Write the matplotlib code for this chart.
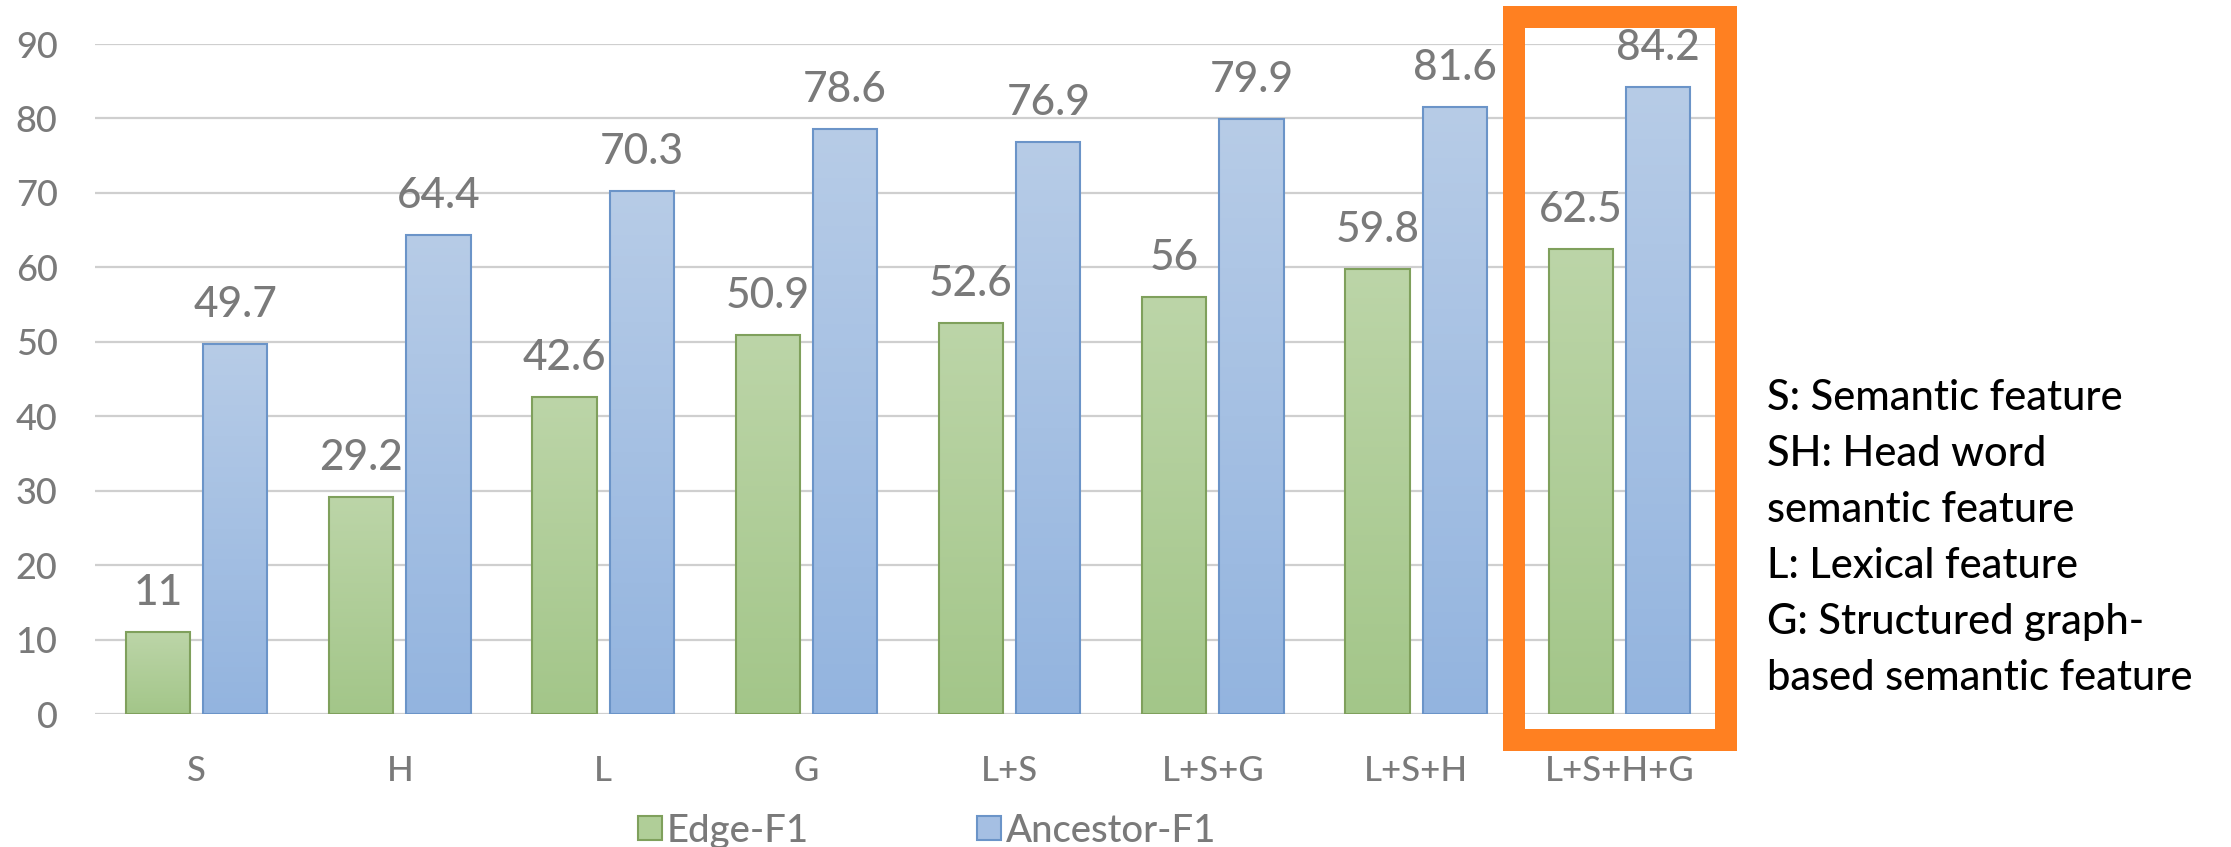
import matplotlib
matplotlib.use("Agg")
import matplotlib.pyplot as plt
import numpy as np
from matplotlib.colors import LinearSegmentedColormap
from matplotlib.patches import Rectangle, Patch
from matplotlib.transforms import IdentityTransform

categories = ["S", "H", "L", "G", "L+S", "L+S+G", "L+S+H", "L+S+H+G"]
edge_f1 = [11, 29.2, 42.6, 50.9, 52.6, 56, 59.8, 62.5]
ancestor_f1 = [49.7, 64.4, 70.3, 78.6, 76.9, 79.9, 81.6, 84.2]
series_names = ["Edge-F1", "Ancestor-F1"]
y_ticks = [0, 10, 20, 30, 40, 50, 60, 70, 80, 90]
glossary = [
    "S: Semantic feature",
    "SH: Head word",
    "semantic feature",
    "L: Lexical feature",
    "G: Structured graph-",
    "based semantic feature",
]

W, H = 2231, 847
DPI = 100
plt.rcParams["font.family"] = ["Lato", "DejaVu Sans"]
plt.rcParams["font.weight"] = "medium"

fig = plt.figure(figsize=(W / DPI, H / DPI), dpi=DPI)
fig.patch.set_facecolor("white")

# axes placed in pixel space
ax_left, ax_right = 95, 1721
ax_top, ax_bottom = 44, 714.3
ax = fig.add_axes([ax_left / W, (H - ax_bottom) / H,
                   (ax_right - ax_left) / W, (ax_bottom - ax_top) / H])

gray_text = "#7A7A7A"
grid_col = "#CFCFCF"

x = np.arange(len(categories))
bw = 0.315
off = 0.19

green_face = ["#BCD5A8", "#A3C689"]
blue_face = ["#B7CCE7", "#93B4DF"]
green_edge = "#7FA05C"
blue_edge = "#6B94C8"


def gradient_bars(xpos, vals, faces, edge, label):
    bars = ax.bar(xpos, vals, width=bw, facecolor="none", edgecolor=edge,
                  linewidth=1.5, zorder=4, label=label)
    cmap = LinearSegmentedColormap.from_list("g", [faces[1], faces[0]])
    grad = np.linspace(0, 1, 256).reshape(-1, 1)
    for b in bars:
        x0, h = b.get_x(), b.get_height()
        ax.imshow(grad, cmap=cmap, aspect="auto", origin="lower",
                  extent=(x0, x0 + b.get_width(), 0, h), zorder=3,
                  interpolation="bilinear")
    for xi, v in zip(xpos, vals):
        ax.annotate(f"{v:g}", (xi, v), xytext=(0, 28), textcoords="offset points",
                    ha="center", va="center", fontsize=30.5, color=gray_text,
                    annotation_clip=False)
    return bars


gradient_bars(x - off, edge_f1, green_face, green_edge, series_names[0])
gradient_bars(x + off, ancestor_f1, blue_face, blue_edge, series_names[1])

ax.set_xlim(-0.5, len(categories) - 0.5)
ax.set_ylim(0, 90)
ax.set_yticks(y_ticks)
ax.set_xticks(x)
ax.set_xticklabels(categories)
ax.yaxis.grid(True, color=grid_col, linewidth=1.6, zorder=0)
ax.set_axisbelow(True)
for s in ax.spines.values():
    s.set_visible(False)
ax.tick_params(axis="both", length=0, labelcolor=gray_text)
ax.tick_params(axis="y", pad=27, labelsize=26)
ax.tick_params(axis="x", pad=29, labelsize=25)

# legend below the axis
handles = [Patch(facecolor="#B0CE98", edgecolor=green_edge, linewidth=1.5),
           Patch(facecolor="#A5BFE3", edgecolor=blue_edge, linewidth=1.5)]
fig.legend(handles, series_names, loc="center left", ncol=2, frameon=False,
           bbox_to_anchor=(638 / W, 1 - 831 / H), fontsize=27.5, borderpad=0,
           borderaxespad=0, labelcolor=gray_text, handlelength=0.63,
           handleheight=0.58, handletextpad=0.12, columnspacing=4.4)

# highlight frame around the last group
t = 22
x0, x1, y0, y1 = 1502.7, 1736.7, 6, 751
fig.patches.append(Rectangle((x0 + t / 2, H - y1 + t / 2), (x1 - x0) - t, (y1 - y0) - t,
                             fill=False, edgecolor="#FF8021", linewidth=t * 72 / DPI,
                             joinstyle="miter", transform=IdentityTransform(),
                             zorder=10))

# glossary of feature abbreviations
for i, line in enumerate(glossary):
    fig.text(1767 / W, 1 - (398 + 56 * i) / H, line, fontsize=30, color="black",
             ha="left", va="center")

fig.savefig("out.png", dpi=DPI)
